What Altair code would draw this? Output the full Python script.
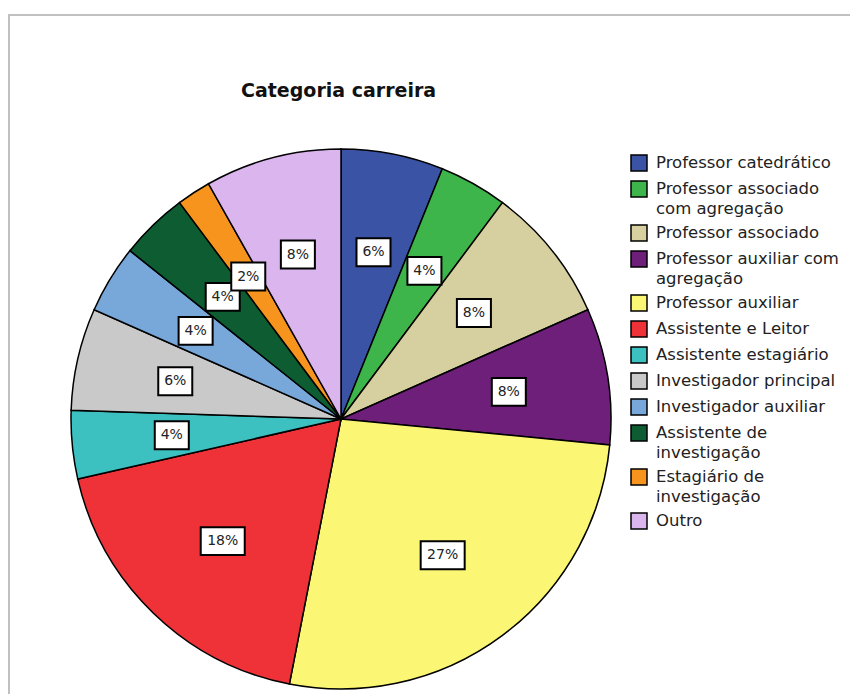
import altair as alt
import pandas as pd

# Data (counts; N = 49)
categories = [
    "Professor catedrático",
    "Professor associado com agregação",
    "Professor associado",
    "Professor auxiliar com agregação",
    "Professor auxiliar",
    "Assistente e Leitor",
    "Assistente estagiário",
    "Investigador principal",
    "Investigador auxiliar",
    "Assistente de investigação",
    "Estagiário de investigação",
    "Outro",
]
counts = [3, 2, 4, 4, 13, 9, 2, 3, 2, 2, 1, 4]
pct_labels = ["6%", "4%", "8%", "8%", "27%", "18%", "4%", "6%", "4%", "4%", "2%", "8%"]
colors = [
    "#3a53a4", "#3db54a", "#d6cf9f", "#6d1f7a", "#fbf674", "#ee3237",
    "#3cc0c0", "#c9c9c9", "#78a7da", "#0e5c32", "#f7941d", "#dab5ee",
]
legend_lines = {
    "Professor associado com agregação": ["Professor associado", "com agregação"],
    "Professor auxiliar com agregação": ["Professor auxiliar com", "agregação"],
    "Assistente de investigação": ["Assistente de", "investigação"],
    "Estagiário de investigação": ["Estagiário de", "investigação"],
}
title_text = "Categoria carreira"

df = pd.DataFrame({
    "idx": list(range(len(categories))),
    "cat": categories,
    "count": counts,
    "label": pct_labels,
})

W, H = 842, 680
CX, CY, R, LR = 333, 405, 270, 170

label_expr = ""
for k, v in legend_lines.items():
    label_expr += "datum.label == '%s' ? [%s] : " % (k, ", ".join("'%s'" % s for s in v))
label_expr += "datum.label"

base = alt.Chart(df)

pie = base.mark_arc(outerRadius=R, stroke="black", strokeWidth=1.5).encode(
    theta=alt.Theta("count:Q", stack=True),
    order=alt.Order("idx:Q"),
    color=alt.Color(
        "cat:N",
        sort=categories,
        scale=alt.Scale(domain=categories, range=colors),
        legend=alt.Legend(
            title=None,
            orient="none",
            legendX=622,
            legendY=140,
            symbolType="square",
            symbolSize=256,
            symbolStrokeColor="black",
            symbolStrokeWidth=1.5,
            symbolOpacity=1,
            labelFont="DejaVu Sans",
            labelFontSize=16.5,
            labelColor="#222222",
            labelLimit=300,
            labelOffset=8,
            rowPadding=4,
            labelExpr=label_expr,
        ),
    ),
    x=alt.value(CX),
    y=alt.value(CY),
)

pos = (
    base.transform_joinaggregate(total="sum(count)")
    .transform_window(cum="sum(count)", sort=[alt.SortField("idx")], frame=[None, 0])
    .transform_calculate(
        mid="(datum.cum - datum.count/2) / datum.total * 2 * PI",
        w="length(datum.label) > 2 ? 'wide' : 'narrow'",
    )
    .transform_calculate(
        px=f"{CX} + {LR} * sin(datum.mid)",
        py=f"{CY} - {LR} * cos(datum.mid)",
    )
)

boxes = pos.mark_point(
    filled=True, fill="white", stroke="black", strokeWidth=2, opacity=1, size=44 * 44
).encode(
    x=alt.X("px:Q", scale=None),
    y=alt.Y("py:Q", scale=None),
    shape=alt.Shape(
        "w:N",
        scale=alt.Scale(
            domain=["narrow", "wide"],
            range=[
                "M-0.773,-0.636L0.773,-0.636L0.773,0.636L-0.773,0.636Z",
                "M-1,-0.636L1,-0.636L1,0.636L-1,0.636Z",
            ],
        ),
        legend=None,
    ),
)

texts = pos.mark_text(font="DejaVu Sans", fontSize=14, color="#222222").encode(
    x=alt.X("px:Q", scale=None),
    y=alt.Y("py:Q", scale=None),
    text="label:N",
)

frame_top = alt.Chart(pd.DataFrame({"a": [0]})).mark_rule(color="#c0c0c0", strokeWidth=2).encode(
    x=alt.value(0), x2=alt.value(W), y=alt.value(1)
)
frame_left = alt.Chart(pd.DataFrame({"a": [0]})).mark_rule(color="#c0c0c0", strokeWidth=2).encode(
    x=alt.value(1), y=alt.value(0), y2=alt.value(H)
)

chart = (
    alt.layer(frame_top, frame_left, pie, boxes, texts)
    .properties(
        width=W,
        height=H,
        autosize=alt.AutoSizeParams(type="none"),
        padding={"left": 0, "top": 6, "right": 0, "bottom": 0},
        title=alt.TitleParams(
            title_text,
            anchor="start",
            font="DejaVu Sans",
            fontSize=19,
            fontWeight="bold",
            color="#111111",
            baseline="middle",
            offset=0,
            dx=234,
            dy=97,
        ),
    )
    .configure_view(stroke=None)
    .configure(style={"guide-label": {"lineHeight": 20}})
    .resolve_scale(shape="independent")
)

chart.save("out.html", embed_options={"renderer": "svg", "actions": False})
